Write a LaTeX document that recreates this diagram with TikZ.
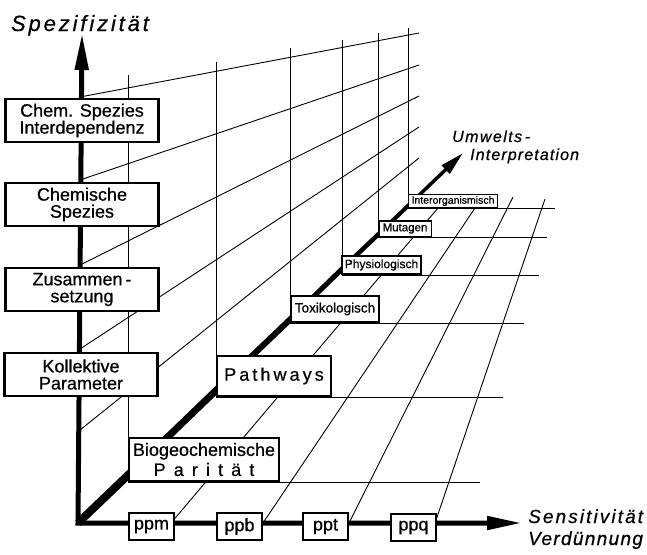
\documentclass[tikz,border=0pt]{standalone}
\usepackage{fontspec}
\setmainfont{Liberation Sans}[FakeBold=0.6]
\usepackage{tikz}
\usetikzlibrary{arrows.meta}

\tikzset{
  achse/.style={line width=5pt},
  gitter/.style={line width=0.9pt},
  stufe/.style={rectangle, draw, fill=white, line width=2.4pt, inner sep=0pt, align=center},
  spez/.style={stufe, minimum width=153, minimum height=43, font=\fontsize{18}{17}\selectfont},
  konz/.style={stufe, line width=2.2pt, minimum width=45, minimum height=27, font=\fontsize{18}{18}\selectfont},
  achstext/.style={inner sep=0pt, anchor=base west},
}

\begin{document}
\begin{tikzpicture}[x=1pt, y=-1pt]
\useasboundingbox (0,0) rectangle (647,554);

\coordinate (o) at (78,523);
\coordinate (oben) at (82,33);
\coordinate (rechts) at (522,523);
\coordinate (hinten) at (463,153);

\draw[gitter] (80,97) -- (419,33);
\draw[gitter] (80,180) -- (419,65);
\draw[gitter] (80,265) -- (419,96);
\draw[gitter] (80,349) -- (419,127);
\draw[gitter] (80,430) -- (419,158);

\draw[gitter] (128,75) -- (128,437);
\draw[gitter] (216,62) -- (216,355);
\draw[gitter] (290,48) -- (290,295);
\draw[gitter] (342,40) -- (342,255);
\draw[gitter] (378,33) -- (378,220);
\draw[gitter] (408,28) -- (408,194);

\draw[gitter] (128,482) -- (480,482);
\draw[gitter] (216,397) -- (503,397);
\draw[gitter] (290,323) -- (524,323);
\draw[gitter] (342,275) -- (539,275);
\draw[gitter] (378,237) -- (547,237);
\draw[gitter] (408,208) -- (555,208);

\draw[gitter] (171,523) -- (438,208);
\draw[gitter] (263,523) -- (475,208);
\draw[gitter] (349,523) -- (513,197);
\draw[gitter] (435,523) -- (545,199);

\draw[achse, {Triangle[length=37pt,width=13pt]}-{Triangle[length=35pt,width=13pt]}] (oben) -- (o) -- (rechts);

\coordinate (d1) at (149,455);
\coordinate (d2) at (231,376);
\coordinate (d3) at (301,309);
\coordinate (d4) at (346,265);
\coordinate (d5) at (385,228);
\coordinate (d6) at (413,201);
\draw[line width=8pt] (o) -- (d1);
\draw[line width=7pt] (d1) -- (d2);
\draw[line width=6pt] (d2) -- (d3);
\draw[line width=5pt] (d3) -- (d4);
\draw[line width=4.5pt] (d4) -- (d5);
\draw[line width=4pt] (d5) -- (d6);
\draw[line width=3.5pt, -{Triangle[length=24pt,width=11pt]}] (d6) -- (hinten);

\node[spez] (interdep) at (82,120.5) {Chem. Spezies\\Interdependenz};
\node[spez] (chemspez) at (82,204.5) {Chemische\\Spezies};
\node[spez] (zusammen) at (82,289.5) {Zusammen\,-\\setzung};
\node[spez] (kollektiv) at (81,374.5) {Kollektive\\Parameter};

\node[stufe, minimum width=150, minimum height=43, font=\fontsize{18}{20}\selectfont] (biogeo) at (204,459.5) {Biogeochemische\\{\addfontfeature{LetterSpace=45}Parität}};
\node[stufe, line width=2.2pt, minimum width=114, minimum height=40, font=\fontsize{18}{18}\selectfont\addfontfeature{LetterSpace=17}] (pathways) at (274,376) {Pathways};
\node[stufe, line width=1.8pt, minimum width=88, minimum height=26, font=\fontsize{13.5}{14}\selectfont] (toxiko) at (335,309) {Toxikologisch};
\node[stufe, line width=1.6pt, minimum width=79, minimum height=18.5, font=\fontsize{12}{12}\selectfont] (physio) at (381.5,265) {Physiologisch};
\node[stufe, line width=1.5pt, minimum width=52.5, minimum height=15.5, font=\fontsize{11.5}{12}\selectfont] (mutagen) at (405,228.5) {Mutagen};
\node[stufe, line width=1.3pt, minimum width=89, minimum height=13, font=\fontsize{10.5}{11}\selectfont] (interorg) at (453,201) {Interorganismisch};

\node[konz] (ppm) at (151.5,526.5) {ppm};
\node[konz] (ppb) at (239.5,526.5) {ppb};
\node[konz] (ppt) at (325.5,526.5) {ppt};
\node[konz] (ppq) at (413.5,527.5) {ppq};

\node[inner sep=0pt, anchor=base, font=\fontsize{22}{22}\selectfont\itshape\addfontfeature{LetterSpace=13}] (spezlab) at (80,31) {Spezifizität};
\node[achstext, font=\fontsize{16}{16}\selectfont\itshape\addfontfeature{LetterSpace=9}] (umwlab) at (452,142) {Umwelts\,-};
\node[achstext, font=\fontsize{16}{16}\selectfont\itshape\addfontfeature{LetterSpace=7}] (interplab) at (470,160) {Interpretation};
\node[achstext, font=\fontsize{19}{19}\selectfont\itshape\addfontfeature{LetterSpace=11}] (senslab) at (528,523) {Sensitivität};
\node[achstext, font=\fontsize{19}{19}\selectfont\itshape\addfontfeature{LetterSpace=7}] (verdlab) at (528,545) {Verdünnung};

\end{tikzpicture}
\end{document}
